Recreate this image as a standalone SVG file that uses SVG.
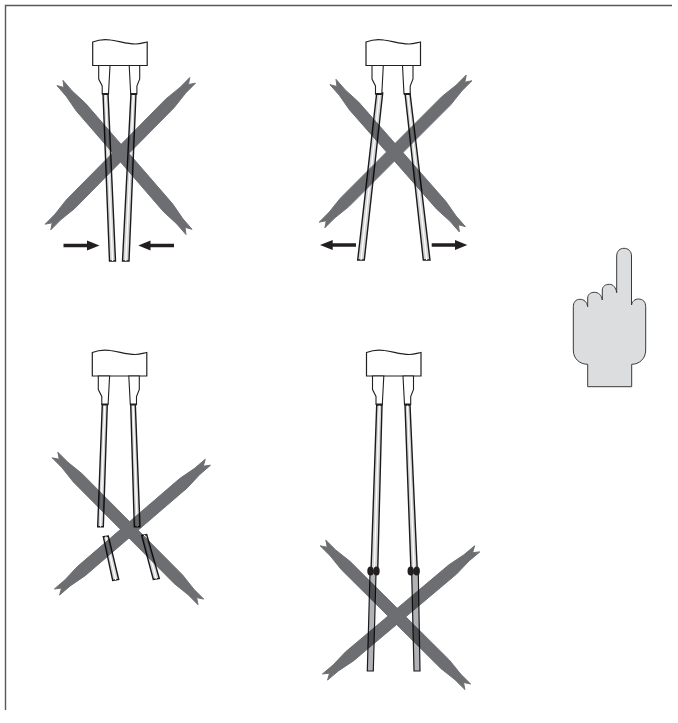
<svg xmlns="http://www.w3.org/2000/svg" xmlns:xlink="http://www.w3.org/1999/xlink" width="678" height="723" viewBox="0 0 678 723">
<style>
.frame{fill:none;stroke:#58585a;stroke-width:1.4}
.body{fill:#fff;stroke:#231f20;stroke-width:1.2;stroke-linejoin:miter}
.pin{fill:#fff;stroke:#231f20;stroke-width:1.1}
.cap{stroke:#231f20;stroke-width:1.8;fill:none}
.wire{fill:#d4d5d7;stroke:#1c1a1b;stroke-width:1.4}
.wire2{fill:#b0b2b5;stroke:#1c1a1b;stroke-width:1.2}
.core{stroke:#fff;stroke-width:1.2;fill:none}
.mid{stroke:#2e2c2d;stroke-width:.5;fill:none}
.cross{mix-blend-mode:multiply}
.cross path{fill:#6d6e71;stroke:#6d6e71;stroke-width:.9}
.arrow{fill:#231f20}
.knot{fill:#231f20}
.hand{fill:#dcddde;stroke:#3a3a3c;stroke-width:1;stroke-linejoin:round}
</style>
<defs>
<g id="head">
<path class="body" d="M0 1C5 -1 12 -2 18 -1C27 0 33 3 43 3C47 3 50 2 54.500 1L54.500 24.500L0 24.500Z"/>
<path class="pin" d="M6 24.500L6 38L9.500 45L9.500 53L15.800 53L17.300 24.500Z"/>
<path class="pin" d="M36.500 24.500L38 53L44.200 53L44.200 45L47 38L47 24.500Z"/>
<path class="cap" d="M9.500 53H15.800M38 53H44.200"/>
</g>
</defs>
<path class="frame" d="M672 5.500H5.500V710"/>

<g id="tl">
<polygon class="wire" points="103,93 108,93 115.500,261 109.500,261"/><line class="core" x1="105.500" y1="93" x2="112.500" y2="261"/>
<polygon class="wire" points="131,93 136,93 129,261 122.500,261"/><line class="core" x1="133.500" y1="93" x2="125.800" y2="261"/>
<g class="cross">
<path transform="translate(60,83) rotate(49.100)" d="M0-4L6 0L0 4L14 4L32 6L165 6L183 4L197 4L191 0L197-4L183-4L165-6L32-6L14-4Z"/>
<path transform="translate(48,227) rotate(-45.400)" d="M0-4L6 0L0 4L14 4L32 6L174 6L192 4L206 4L200 0L206-4L192-4L174-6L32-6L14-4Z"/>
</g>
<use xlink:href="#head" href="#head" x="92.700" y="41"/>
<path class="arrow" d="M63.500 243.800H87V240.500L99.500 245.500L87 250.500V247.200H63.500Z"/>
<path class="arrow" d="M174 243.800H150.500V240.500L138.300 245.500L150.500 250.500V247.200H174Z"/>
</g>

<g id="tr">
<polygon class="wire" points="376.700,93 382.700,93 364.300,260 357.700,260"/><line class="core" x1="379.700" y1="93" x2="361" y2="260"/>
<polygon class="wire" points="405,93 410,93 430,260 423.300,260"/><line class="core" x1="407.500" y1="93" x2="426.700" y2="260"/>
<g class="cross">
<path transform="translate(333,82) rotate(48.700)" d="M0-4L6 0L0 4L14 4L32 6L164 6L182 4L196 4L190 0L196-4L182-4L164-6L32-6L14-4Z"/>
<path transform="translate(322,225) rotate(-45)" d="M0-4L6 0L0 4L14 4L32 6L176 6L194 4L208 4L202 0L208-4L194-4L176-6L32-6L14-4Z"/>
</g>
<use xlink:href="#head" href="#head" x="366" y="41"/>
<path class="arrow" d="M356 243.300H332.700V240L320 245L332.700 250V246.700H356Z"/>
<path class="arrow" d="M431.700 243.300H455V240L467.300 245L455 250V246.700H431.700Z"/>
</g>

<g id="bl">
<polygon class="wire" points="102.300,404 107.300,404 103.300,526.700 97.700,526.700"/><line class="core" x1="104.800" y1="404" x2="100.500" y2="526.700"/>
<polygon class="wire" points="130.700,404 135.300,404 140,526.700 134.300,526.700"/><line class="core" x1="133" y1="404" x2="137.200" y2="526.700"/>
<polygon class="wire" points="103.300,536.700 108.300,536 118.700,579.500 112.700,580.500"/><line class="core" x1="105.800" y1="536.300" x2="115.700" y2="580"/>
<polygon class="wire" points="141.700,535.500 146.700,534.500 159.300,578.500 153.300,579.500"/><line class="core" x1="144.200" y1="535" x2="156.300" y2="579"/>
<g class="cross">
<path transform="translate(55,455) rotate(45.200)" d="M0-4L6 0L0 4L14 4L32 6L175 6L193 4L207 4L201 0L207-4L193-4L175-6L32-6L14-4Z"/>
<path transform="translate(57,592) rotate(-40.700)" d="M0-4L6 0L0 4L14 4L32 6L167 6L185 4L199 4L193 0L199-4L185-4L167-6L32-6L14-4Z"/>
</g>
<use xlink:href="#head" href="#head" x="92.300" y="351.500"/>
</g>

<g id="br">
<polygon class="wire" points="376.700,405 382,405 377.700,571 371,571"/><line class="core" x1="379.300" y1="405" x2="374.300" y2="571"/>
<polygon class="wire" points="405,405 410,405 417.300,571 411,571"/><line class="core" x1="407.500" y1="405" x2="414.200" y2="571"/>
<polygon class="wire2" points="370,573 376,573 373.300,671 367.300,671"/>
<polygon class="wire2" points="411.700,573 418.300,573 420,671 414,671"/>
<g class="cross">
<path transform="translate(323,543) rotate(44.800)" d="M0-4L6 0L0 4L14 4L32 6L172 6L190 4L204 4L198 0L204-4L190-4L172-6L32-6L14-4Z"/>
<path transform="translate(325,677) rotate(-40.100)" d="M0-4L6 0L0 4L14 4L32 6L167 6L185 4L199 4L193 0L199-4L185-4L167-6L32-6L14-4Z"/>
</g>
<use xlink:href="#head" href="#head" x="366.500" y="351.500"/>
<ellipse class="knot" cx="370.500" cy="571" rx="3.200" ry="4.500"/><ellipse class="knot" cx="376.500" cy="571" rx="3.200" ry="4.500"/>
<ellipse class="knot" cx="410.700" cy="571" rx="3.200" ry="4.500"/><ellipse class="knot" cx="416.700" cy="571" rx="3.200" ry="4.500"/>
</g>

<g id="hand">
<path class="hand" d="M616.700 292.700V256C616.700 251 620 248.300 624 248.300C628 248.300 631.500 251 631.500 256V305C632.500 301 635 299 638.300 299C643 299 645.700 302 645.700 306.700V350C645.700 359 639 364.300 631.700 364.300V386.700H587.700V364.300C580 364.300 573.300 359 573.300 350V306.700C573.300 302 576 299.300 580 299.300C584 299.300 587 302 587.700 306.700V298C587.700 294.500 590.500 292.300 594.300 292.300C598.500 292.300 601.500 295 602.300 300V290C602.300 286.500 605.500 284.300 609.300 284.300C613.500 284.300 616 288 616.700 292.700Z"/>
</g>
</svg>
